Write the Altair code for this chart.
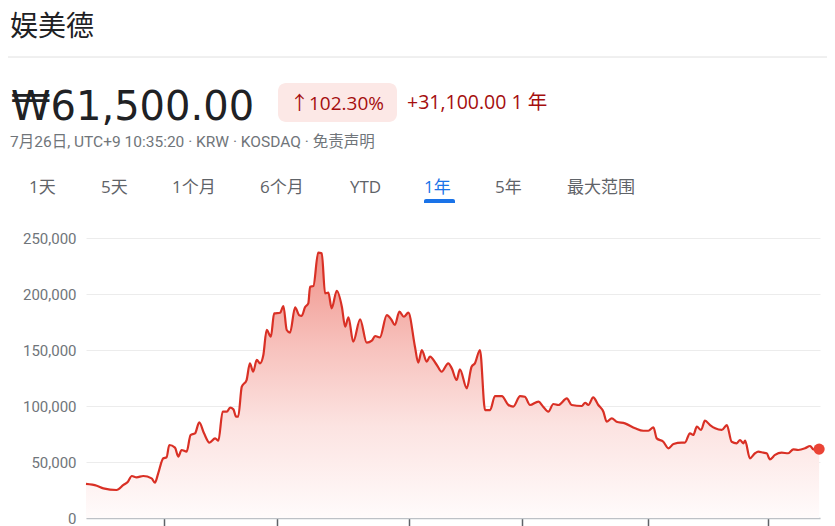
import altair as alt
import pandas as pd

# ---- data (trading-day index over one year, price in KRW) ----
days = [0, 3.6, 5.8, 10.2, 12.5, 14.0, 15.3, 16.9, 19.1, 21.9, 23.0, 24.1, 25.8, 26.9, 27.8,
        29.7, 30.8, 31.9, 33.6, 34.9, 36.4, 37.8, 39.4, 41.2, 43.1, 44.2, 45.6, 47.0, 48.1,
        49.2, 50.1, 50.8, 52.0, 53.6, 54.7, 55.8, 57.0, 58.1, 59.2, 60.3, 61.7, 62.8, 64.8,
        65.9, 67.0, 68.1, 69.8, 71.1, 72.0, 73.1, 74.2, 74.8, 75.9, 77.5, 78.7, 79.8, 80.9,
        82.0, 83.7, 85.4, 86.5, 87.6, 89.2, 91.5, 93.7, 95.4, 96.5, 98.1, 100.4, 102.0, 103.1,
        104.6, 106.1, 107.6, 109.8, 110.9, 112.1, 113.7, 114.8, 117.1, 118.7, 120.9, 122.1,
        123.7, 124.8, 127.1, 128.7, 129.8, 131.5, 133.2, 134.9, 136.5, 138.8, 141.0, 142.6,
        144.9, 146.5, 148.2, 151.0, 152.6, 154.3, 156.0, 157.7, 160.5, 162.1, 165.5, 166.6,
        167.7, 169.3, 171.0, 172.7, 173.8, 175.5, 177.1, 179.9, 183.3, 186.0, 187.7, 189.4,
        190.5, 192.7, 194.4, 196.1, 198.8, 199.9, 201.6, 202.7, 203.9, 205.3, 206.6, 208.3,
        210.0, 212.2, 213.9, 215.5, 217.2, 218.3, 219.4, 220.0, 221.6, 223.3, 224.4, 226.1,
        227.2, 228.3, 230.0, 232.2, 234.4, 236.1, 237.7, 240.0, 241.7, 242.8, 244.7]
prices = [30400, 28800, 26500, 25000, 29500, 32400, 37500, 36300, 37500, 35400, 31500, 39900,
          53300, 54200, 65200, 62800, 54800, 60700, 59200, 74100, 75600, 85400, 75600, 67300,
          71100, 69000, 94900, 94900, 98500, 97000, 90500, 90500, 117200, 123200, 138100,
          130600, 141100, 138100, 145500, 167900, 161900, 182700, 183300, 189300, 167900,
          165500, 188100, 181200, 180400, 188100, 191700, 206500, 207100, 236900, 236300,
          200600, 201200, 187200, 202900, 188700, 170800, 179200, 157400, 177400, 156500,
          158300, 162500, 161300, 181200, 176800, 172300, 184200, 179700, 183300, 152900,
          138700, 150000, 139600, 144000, 136600, 130600, 138100, 133600, 123200, 132700,
          115800, 135100, 138100, 150000, 96400, 96400, 108900, 108900, 100900, 99400, 108900,
          108300, 100900, 103900, 99400, 94900, 101800, 100900, 106800, 100900, 100000, 102900,
          100900, 107700, 100900, 94900, 86000, 89000, 86000, 84500, 80100, 77900, 77900,
          81000, 71100, 68100, 62200, 66100, 67300, 67300, 75600, 74100, 81500, 78600, 86900,
          83000, 80100, 78600, 83000, 68100, 66700, 69600, 66700, 69000, 53300, 57800, 59200,
          58300, 57800, 52400, 56300, 58300, 57800, 61300, 60700, 62200, 64300, 61300, 61500]
x_ticks = [26.0, 63.8, 107.9, 145.6, 187.7, 227.5]
y_ticks = [0, 50000, 100000, 150000, 200000, 250000]

stock_name = "娱美德"
price_text = "₩61,500.00"
pct_text = "↑102.30%"
change_text = "+31,100.00 1 年"
info_text = "7月26日, UTC+9 10:35:20 · KRW · KOSDAQ · 免责声明"
tabs = ["1天", "5天", "1个月", "6个月", "YTD", "1年", "5年", "最大范围"]
selected_tab = "1年"

df = pd.DataFrame({"day": days, "price": prices})
last = df.tail(1)

FONT = "Roboto, Noto Sans CJK SC, sans-serif"
WIDE = "Open Sans, Noto Sans CJK SC, sans-serif"
DEJA = "DejaVu Sans, Noto Sans CJK SC, sans-serif"
CJK = "Noto Sans CJK SC, Roboto, sans-serif"

xs = alt.Scale(domain=[0, 245], nice=False, zero=False)
ys = alt.Scale(domain=[0, 250000], nice=False)

x_enc = alt.X("day:Q", scale=xs,
              axis=alt.Axis(values=x_ticks, labels=False, title=None, grid=False,
                            ticks=True, tickSize=10, tickWidth=1.5, tickColor="#5f6368",
                            domain=True, domainColor="#bdc1c6", domainWidth=1.5))
y_enc = alt.Y("price:Q", scale=ys,
              axis=alt.Axis(values=y_ticks, format=",d", title=None, domain=False,
                            ticks=False, labelPadding=10, labelFontSize=15,
                            labelColor="#70757a", labelFont=FONT,
                            grid=True, gridColor="#ececec", gridWidth=1))

area = alt.Chart(df).mark_area(
    color=alt.Gradient(
        gradient="linear",
        stops=[alt.GradientStop(color="#f0938a", offset=0),
               alt.GradientStop(color="#f7c1bc", offset=0.35),
               alt.GradientStop(color="#fce3e1", offset=0.65),
               alt.GradientStop(color="#fffbfb", offset=1)],
        x1=1, x2=1, y1=0, y2=1),
    interpolate="monotone",
).encode(x=x_enc, y=y_enc)

line = alt.Chart(df).mark_line(color="#d93025", strokeWidth=2.2, interpolate="monotone").encode(
    x=x_enc, y=y_enc)

dot = alt.Chart(last).mark_circle(color="#ea4335", size=125, opacity=1).encode(
    x=alt.X("day:Q", scale=xs), y=alt.Y("price:Q", scale=ys))


def txt(s, x, y, size, color, font=FONT, baseline="alphabetic", weight="normal"):
    return alt.Chart(pd.DataFrame({"t": [s]})).mark_text(
        align="left", baseline=baseline, fontSize=size, color=color, font=font,
        fontWeight=weight
    ).encode(x=alt.value(x), y=alt.value(y), text="t:N")


one = pd.DataFrame({"a": [1]})
divider = alt.Chart(one).mark_rule(color="#e0e0e0", strokeWidth=1).encode(
    x=alt.value(-78), x2=alt.value(741), y=alt.value(-181))
badge = alt.Chart(one).mark_rect(color="#fce8e6", cornerRadius=8).encode(
    x=alt.value(192), x2=alt.value(311), y=alt.value(-155), y2=alt.value(-116))
underline = alt.Chart(one).mark_rect(
    color="#1a73e8", cornerRadiusTopLeft=3, cornerRadiusTopRight=3).encode(
    x=alt.value(338), x2=alt.value(369), y=alt.value(-39), y2=alt.value(-35))

tab_x = [-57, 15, 86, 174, 264, 338, 409, 481]
tab_layers = [
    txt(t, tx, -45, 17, "#1a73e8" if t == selected_tab else "#5f6368", font=WIDE)
    for t, tx in zip(tabs, tab_x)
]

header = [
    txt(stock_name, -76, -210, 28, "#202124", font=CJK, baseline="middle"),
    divider,
    txt(price_text, -75, -118, 40, "#202124", font=DEJA),
    badge,
    txt(pct_text, 204, -128, 19, "#a50e0e", font=WIDE),
    txt(change_text, 321, -129, 19.5, "#a50e0e", font=WIDE),
    txt(info_text, -76, -91, 15.5, "#70757a", font=FONT),
    underline,
] + tab_layers

chart = alt.layer(area, line, dot, *header).properties(
    width=734, height=280,
    autosize=alt.AutoSizeParams(type="none"),
    padding={"left": 78, "top": 230, "right": 7, "bottom": 10},
    background="white",
).configure_view(stroke=None)

chart.save("out.html", embed_options={"renderer": "svg", "actions": False})
